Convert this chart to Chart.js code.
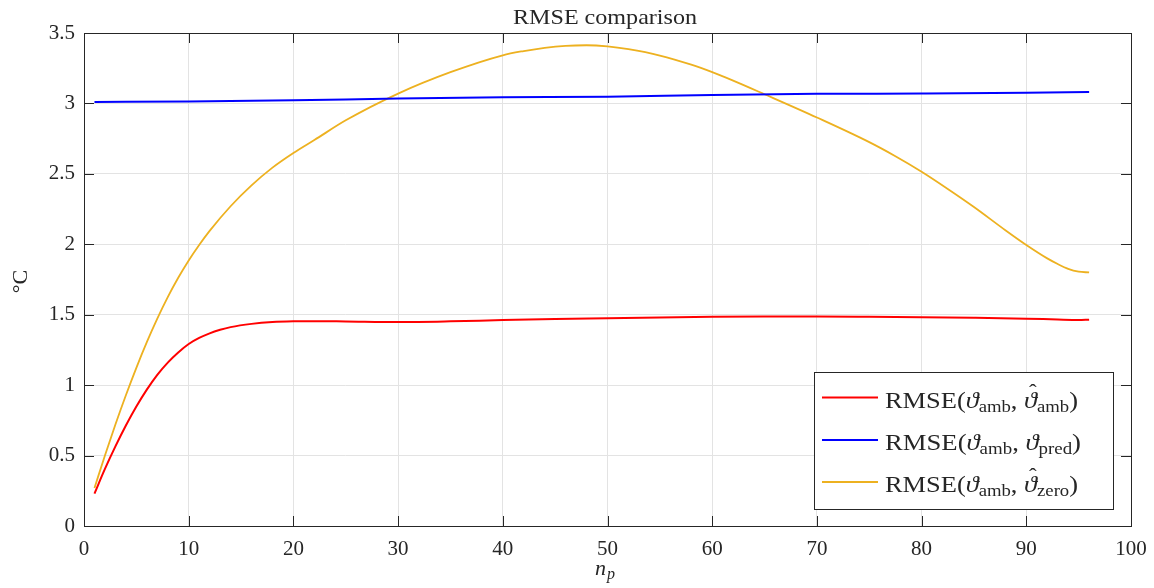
<!DOCTYPE html>
<html>
<head>
<meta charset="utf-8">
<script src="https://cdn.jsdelivr.net/npm/chart.js@4.4.0/dist/chart.umd.min.js"></script>
<style>
  html, body { margin: 0; padding: 0; background: #fff; }
  #wrap { width: 1154px; height: 588px; }
</style>
</head>
<body>
<div id="wrap"><canvas id="chart"></canvas></div>
<script>
// RMSE curves over the prediction horizon n_p
const redX = [1, 2, 3, 4, 5, 6, 7, 8, 9, 10, 11, 12, 13, 14, 16, 18, 20, 22, 25, 30, 35, 40, 45, 50, 55, 60, 65, 70, 75, 80, 85, 90, 93, 95, 96];
const redY = [0.23, 0.405, 0.565, 0.713, 0.848, 0.968, 1.073, 1.16, 1.232, 1.292, 1.335, 1.368, 1.393, 1.412, 1.435, 1.448, 1.453, 1.454, 1.452, 1.448, 1.453, 1.462, 1.469, 1.475, 1.481, 1.485, 1.487, 1.487, 1.485, 1.482, 1.478, 1.472, 1.466, 1.463, 1.465];

const blueX = [1, 10, 20, 30, 40, 50, 60, 70, 80, 90, 96];
const blueY = [3.01, 3.014, 3.022, 3.035, 3.043, 3.048, 3.06, 3.068, 3.07, 3.075, 3.082];

const orangeX = [1, 2, 3, 4, 5, 6, 7, 8, 9, 10, 11, 12, 14, 16, 18, 20, 22, 25, 30, 35, 40, 42, 44, 46, 48, 50, 52, 55, 58, 60, 62, 65, 70, 75, 77.5, 80, 82.5, 85, 88, 90, 92, 93, 94, 95, 96];
const orangeY = [0.27, 0.50, 0.72, 0.928, 1.123, 1.305, 1.472, 1.625, 1.762, 1.885, 1.995, 2.095, 2.27, 2.418, 2.544, 2.648, 2.74, 2.88, 3.07, 3.222, 3.342, 3.372, 3.395, 3.409, 3.413, 3.405, 3.385, 3.34, 3.275, 3.222, 3.162, 3.065, 2.90, 2.725, 2.625, 2.515, 2.393, 2.265, 2.10, 1.995, 1.90, 1.86, 1.826, 1.806, 1.80];

const xTicks = [0, 10, 20, 30, 40, 50, 60, 70, 80, 90, 100];
const yTicks = [0, 0.5, 1, 1.5, 2, 2.5, 3, 3.5];

const serif = '"Liberation Serif", "DejaVu Serif", serif';
const ink = '#262626';

function pts(xs, ys) {
  return xs.map((x, i) => ({ x: x, y: ys[i] }));
}

// draws text stretched horizontally to a given width
function fitText(ctx, text, x, y, width) {
  const w = ctx.measureText(text).width;
  ctx.save();
  ctx.translate(x, y);
  ctx.scale(width / w, 1);
  ctx.fillText(text, 0, 0);
  ctx.restore();
}

// box, inward ticks on all four sides, title, axis names and legend
const decorations = {
  id: 'decorations',
  afterDraw(chart) {
    const { ctx, chartArea: a, scales: { x, y } } = chart;
    ctx.save();
    ctx.strokeStyle = ink;
    ctx.lineWidth = 1;
    ctx.beginPath();
    xTicks.forEach(v => {
      const px = Math.round(x.getPixelForValue(v)) + 0.5;
      ctx.moveTo(px, a.bottom); ctx.lineTo(px, a.bottom - 10);
      ctx.moveTo(px, a.top); ctx.lineTo(px, a.top + 10);
    });
    yTicks.forEach(v => {
      const py = Math.round(y.getPixelForValue(v)) + 0.5;
      ctx.moveTo(a.left, py); ctx.lineTo(a.left + 10, py);
      ctx.moveTo(a.right, py); ctx.lineTo(a.right - 10, py);
    });
    ctx.stroke();
    ctx.strokeRect(Math.round(a.left) + 0.5, Math.round(a.top) + 0.5, Math.round(a.width), Math.round(a.height));

    ctx.fillStyle = ink;
    ctx.textAlign = 'left';
    ctx.textBaseline = 'alphabetic';
    ctx.font = '21px ' + serif;
    fitText(ctx, 'RMSE comparison', 513, 24, 184);

    // x axis name n_p
    ctx.font = 'italic 22px ' + serif;
    ctx.fillText('n', 595, 575);
    ctx.font = 'italic 16px ' + serif;
    ctx.fillText('p', 607, 579);

    // y axis name
    ctx.save();
    ctx.translate(27, (a.top + a.bottom) / 2 + 2);
    ctx.rotate(-Math.PI / 2);
    ctx.textAlign = 'center';
    ctx.font = '22px ' + serif;
    ctx.fillText('°C', 0, 0);
    ctx.restore();

    // legend
    const lw = 299, lh = 137;
    const lx = a.right - 18 - lw, ly = a.bottom - 17 - lh;
    ctx.fillStyle = '#fff';
    ctx.fillRect(lx, ly, lw, lh);
    ctx.strokeStyle = ink;
    ctx.strokeRect(Math.round(lx) + 0.5, Math.round(ly) + 0.5, lw, lh);
    const rows = [
      { color: '#ff0000', hat: true, sub: 'amb', width: 193 },
      { color: '#0000ff', hat: false, sub: 'pred', width: 196 },
      { color: '#EDB120', hat: true, sub: 'zero', width: 193 }
    ];
    const rowY = [25.5, 68, 110];
    rows.forEach((r, i) => {
      const yy = ly + rowY[i];
      ctx.strokeStyle = r.color;
      ctx.lineWidth = 2;
      ctx.beginPath();
      ctx.moveTo(lx + 8, yy); ctx.lineTo(lx + 64, yy);
      ctx.stroke();
      drawLabel(ctx, lx + 71, yy + 10, r);
    });
    ctx.restore();
  }
};

// RMSE(ϑ_amb, ϑ̂_x) with subscripts, squeezed to the legend text width
function drawLabel(ctx, x0, base, r) {
  const big = '24px ' + serif, ital = 'italic 24px ' + serif, small = '17px ' + serif;
  const parts = [
    { t: 'RMSE(', f: big },
    { t: 'ϑ', f: ital },
    { t: 'amb', f: small, dy: 4 },
    { t: ', ', f: big },
    { t: 'ϑ', f: ital, hat: r.hat },
    { t: r.sub, f: small, dy: 4 },
    { t: ')', f: big }
  ];
  let total = 0;
  parts.forEach(p => { ctx.font = p.f; p.w = ctx.measureText(p.t).width; total += p.w; });
  ctx.save();
  ctx.translate(x0, base);
  ctx.scale(r.width / total, 1);
  ctx.fillStyle = ink;
  ctx.textAlign = 'left';
  ctx.textBaseline = 'alphabetic';
  let x = 0;
  parts.forEach(p => {
    ctx.font = p.f;
    ctx.fillText(p.t, x, p.dy || 0);
    if (p.hat) {
      ctx.font = '21px ' + serif;
      ctx.textAlign = 'center';
      ctx.fillText('ˆ', x + p.w / 2 + 2, -9);
      ctx.textAlign = 'left';
    }
    x += p.w;
  });
  ctx.restore();
}

const ctx = document.getElementById('chart');
new Chart(ctx, {
  type: 'line',
  data: {
    datasets: [
      { label: 'RMSE(ϑamb, ϑ̂amb)', data: pts(redX, redY), borderColor: '#ff0000', borderWidth: 2 },
      { label: 'RMSE(ϑamb, ϑpred)', data: pts(blueX, blueY), borderColor: '#0000ff', borderWidth: 2 },
      { label: 'RMSE(ϑamb, ϑ̂zero)', data: pts(orangeX, orangeY), borderColor: '#EDB120', borderWidth: 1.8 }
    ]
  },
  options: {
    responsive: true,
    maintainAspectRatio: false,
    animation: false,
    layout: { padding: { top: 33, right: 23, left: 0, bottom: 0 } },
    elements: {
      point: { radius: 0 },
      line: { cubicInterpolationMode: 'monotone', fill: false }
    },
    plugins: { legend: { display: false }, title: { display: false }, tooltip: { enabled: false } },
    scales: {
      x: {
        type: 'linear', min: 0, max: 100,
        afterFit: s => { s.height = 62; s.paddingLeft = 0; s.paddingRight = 0; },
        afterBuildTicks: s => { s.ticks = xTicks.map(v => ({ value: v })); },
        grid: { color: '#e3e3e3', drawTicks: false },
        border: { display: false },
        ticks: { padding: 11, color: ink, font: { family: serif, size: 21 }, maxRotation: 0, callback: v => String(v) }
      },
      y: {
        min: 0, max: 3.5,
        afterFit: s => { s.width = 84; s.paddingTop = 0; s.paddingBottom = 0; },
        afterBuildTicks: s => { s.ticks = yTicks.map(v => ({ value: v })); },
        grid: { color: '#e3e3e3', drawTicks: false },
        border: { display: false },
        ticks: { padding: 9, color: ink, font: { family: serif, size: 21 }, callback: v => String(v) }
      }
    }
  },
  plugins: [decorations]
});
</script>
</body>
</html>
